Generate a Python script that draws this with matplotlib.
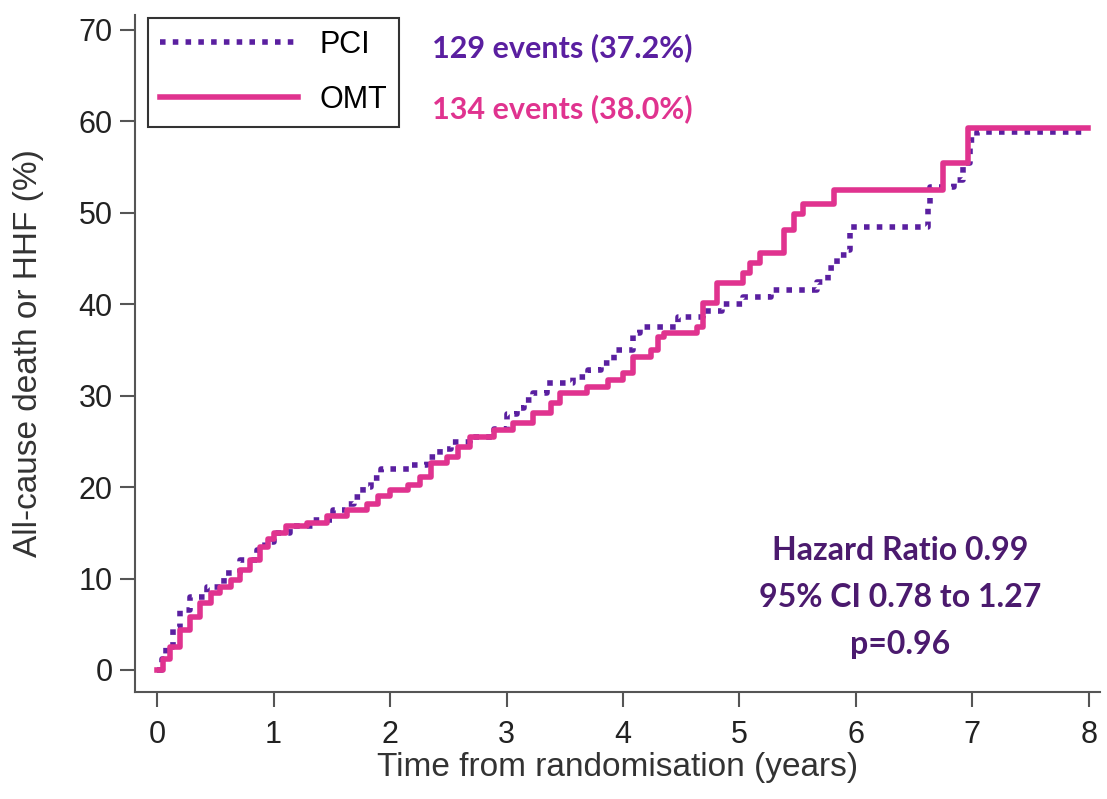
import matplotlib
matplotlib.use('Agg')
import matplotlib.pyplot as plt

# ── cumulative incidence curves ──
pci_t = [0.0, 0.04, 0.08, 0.14, 0.2, 0.28, 0.43, 0.57, 0.71, 0.86, 0.93, 1.0, 1.14,
         1.34, 1.51, 1.62, 1.69, 1.77, 1.84, 1.92, 2.17, 2.32, 2.43, 2.52, 2.69, 2.89,
         3.0, 3.09, 3.15, 3.23, 3.35, 3.57, 3.7, 3.81, 3.92, 4.09, 4.15, 4.47, 4.69,
         4.85, 5.03, 5.27, 5.67, 5.76, 5.84, 5.93, 5.95, 6.58, 6.62, 6.64, 6.84, 6.92,
         6.98, 7.04, 7.98]
pci_y = [0.0, 1.2, 2.5, 4.7, 6.6, 8.0, 9.1, 10.6, 12.0, 13.1, 14.0, 15.0, 15.7,
         16.4, 17.5, 18.2, 18.9, 20.0, 21.0, 22.0, 22.4, 23.3, 24.2, 24.9, 25.5, 26.4,
         28.0, 28.7, 29.5, 30.3, 31.4, 32.0, 32.8, 33.6, 35.0, 36.8, 37.5, 38.6, 39.3,
         40.0, 40.8, 41.5, 42.4, 44.0, 45.4, 45.9, 48.4, 48.4, 50.6, 52.8, 53.6, 55.4,
         57.9, 58.8, 58.8]

omt_t = [0.0, 0.05, 0.11, 0.2, 0.28, 0.37, 0.46, 0.54, 0.63, 0.71, 0.8, 0.88, 0.95,
         1.0, 1.11, 1.29, 1.46, 1.63, 1.8, 1.9, 2.0, 2.15, 2.26, 2.35, 2.49, 2.58, 2.69,
         2.89, 3.06, 3.23, 3.38, 3.46, 3.69, 3.87, 4.0, 4.09, 4.24, 4.3, 4.35, 4.64,
         4.69, 4.81, 5.03, 5.09, 5.18, 5.38, 5.47, 5.55, 5.81, 6.75, 6.96, 7.99]
omt_y = [0.0, 1.2, 2.5, 4.4, 5.8, 7.3, 8.4, 9.1, 9.8, 10.9, 12.0, 13.5, 14.3,
         15.0, 15.7, 16.1, 16.8, 17.5, 18.2, 19.0, 19.7, 20.2, 21.1, 22.6, 23.3, 24.4, 25.5,
         26.2, 27.0, 28.1, 29.2, 30.3, 30.9, 31.7, 32.5, 34.2, 35.0, 36.4, 36.9, 37.5,
         40.1, 42.3, 43.4, 44.5, 45.6, 48.1, 49.9, 51.0, 52.5, 55.4, 59.3, 59.3]

pci_label = 'PCI'
omt_label = 'OMT'
pci_events = '129 events (37.2%)'
omt_events = '134 events (38.0%)'
hr_text = 'Hazard Ratio 0.99\n95% CI 0.78 to 1.27\np=0.96'

x_ticks = list(range(0, 9))
y_ticks = list(range(0, 71, 10))

PCI_COL = '#5a1fa0'
OMT_COL = '#e0338f'
HR_COL = '#4b1a6e'

plt.rcParams['font.family'] = ['Liberation Sans', 'DejaVu Sans']

fig = plt.figure(figsize=(11.07, 7.99), dpi=100)
ax = fig.add_axes([0.122, 0.134, 0.872, 0.847])

ax.step(pci_t, pci_y, where='post', color=PCI_COL, linestyle=(0, (1, 1.3)),
        linewidth=4, label=pci_label)
ax.step(omt_t, omt_y, where='post', color=OMT_COL, linestyle='-',
        linewidth=4, label=omt_label)

ax.set_xlim(-0.19, 8.10)
ax.set_ylim(-2.4, 71.6)
ax.set_xticks(x_ticks)
ax.set_yticks(y_ticks)
ax.tick_params(axis='both', direction='out', length=11, width=1.5, color='#555555',
               labelsize=22, labelcolor='#222222', pad=5)
ax.tick_params(axis='x', pad=9)
for side in ['top', 'right']:
    ax.spines[side].set_visible(False)
for side in ['left', 'bottom']:
    ax.spines[side].set_color('#555555')
    ax.spines[side].set_linewidth(1.5)

ax.set_xlabel('Time from randomisation (years)', fontsize=24, color='#333333', labelpad=2)
ax.set_ylabel('All-cause death or HHF (%)', fontsize=24, color='#333333')
ax.yaxis.set_label_coords(-0.094, 0.5)

leg = ax.legend(loc='upper left', bbox_to_anchor=(0.0135, 0.996), fontsize=22,
                handlelength=4.5, fancybox=False, framealpha=1, borderpad=0.4,
                labelspacing=0.8, handletextpad=0.7, borderaxespad=0)
leg.get_frame().set_edgecolor('#333333')
leg.get_frame().set_linewidth(1.5)

ax.text(2.36, 68.0, pci_events, fontsize=22, fontweight='bold', color=PCI_COL,
        family=['Lato', 'DejaVu Sans'], va='center', ha='left')
ax.text(2.36, 61.4, omt_events, fontsize=22, fontweight='bold', color=OMT_COL,
        family=['Lato', 'DejaVu Sans'], va='center', ha='left')
ax.text(6.38, 7.9, hr_text, fontsize=23, fontweight='bold', color=HR_COL,
        family=['Lato', 'DejaVu Sans'], va='center', ha='center', linespacing=1.75)

plt.savefig('out.png', dpi=100)
plt.close()
